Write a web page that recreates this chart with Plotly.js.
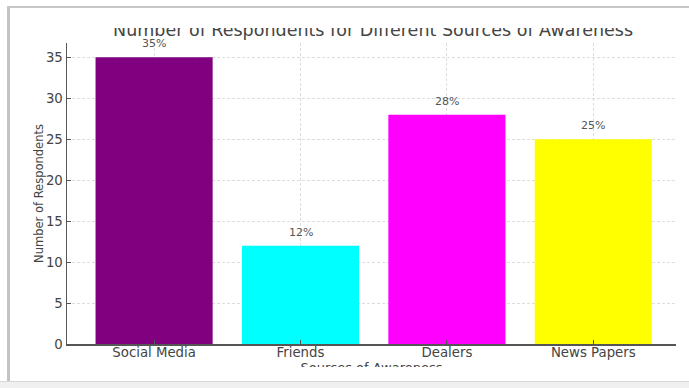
<!DOCTYPE html>
<html>
<head>
<meta charset="utf-8">
<script src="https://cdn.plot.ly/plotly-3.0.1.min.js"></script>
<style>
  html, body { margin: 0; padding: 0; background: #ffffff; }
  #wrap { position: relative; width: 689px; height: 388px; overflow: hidden; background: #fff; }
  #chart { position: absolute; left: 0; top: 0; width: 689px; height: 388px; }
  .cover { position: absolute; background: #ffffff; pointer-events: none; }
  #frameLeft { position: absolute; left: 7px; top: 6px; width: 3px; height: 376px; background: #c4c4c4; }
  #frameTop { position: absolute; left: 7px; top: 6px; width: 682px; height: 2px; background: #c8c8c8; }
  #frameBottom { position: absolute; left: 0px; top: 381px; width: 689px; height: 7px; background: #f0f0f0; border-top: 1px solid #d8d8d8; }
</style>
</head>
<body>
<div id="wrap">
  <div id="chart"></div>
  <div class="cover" style="left:10px; top:8px; width:679px; height:19.5px;"></div>
  <div class="cover" style="left:10px; top:367px; width:679px; height:14px;"></div>
  <div class="cover" style="left:10px; top:8px; width:23px; height:373px;"></div>
  <div id="frameLeft"></div>
  <div id="frameTop"></div>
  <div id="frameBottom"></div>
</div>
<script>
const categories = ["Social Media", "Friends", "Dealers", "News Papers"];
const respondents = [35, 12, 28, 25];
const percentLabels = ["35%", "12%", "28%", "25%"];
const barColors = ["#800080", "#00FFFF", "#FF00FF", "#FFFF00"];
const yTickValues = [0, 5, 10, 15, 20, 25, 30, 35];

const FONT = "DejaVu Sans, Liberation Sans, sans-serif";

const trace = {
  type: "bar",
  x: [0, 1, 2, 3],
  y: respondents,
  width: 0.8,
  marker: { color: barColors, line: { width: 0 } },
  hoverinfo: "x+y",
  showlegend: false
};

const annotations = respondents.map((v, i) => ({
  x: i, y: v, xref: "x", yref: "y",
  text: percentLabels[i],
  showarrow: false,
  yanchor: "bottom",
  yshift: 5,
  font: { family: FONT, size: 11, color: "#555555" }
}));

const layout = {
  width: 689,
  height: 388,
  margin: { l: 67, r: 13, t: 43, b: 44 },
  paper_bgcolor: "#ffffff",
  plot_bgcolor: "#ffffff",
  font: { family: FONT, color: "#444444" },
  title: {
    text: "Number of Respondents for Different Sources of Awareness",
    font: { family: FONT, size: 17.5, color: "#444444" },
    x: 0.5415, xanchor: "center",
    y: 1 - 30 / 388, yanchor: "middle"
  },
  xaxis: {
    range: [-0.595, 3.565],
    tickvals: [0, 1, 2, 3],
    ticktext: categories,
    ticks: "inside", ticklen: 4, tickcolor: "#555555", tickwidth: 1,
    ticklabelstandoff: -4,
    tickfont: { family: FONT, size: 13.3, color: "#444444" },
    showline: true, linecolor: "#555555", linewidth: 1.5,
    showgrid: true, gridcolor: "#dddddd", griddash: "3px,2px", gridwidth: 1,
    zeroline: false,
    title: { text: "Sources of Awareness", font: { family: FONT, size: 13, color: "#444444" }, standoff: 0 }
  },
  yaxis: {
    range: [0, 36.75],
    tickvals: yTickValues,
    ticks: "inside", ticklen: 4, tickcolor: "#555555", tickwidth: 1,
    tickfont: { family: FONT, size: 13.3, color: "#444444" },
    showline: true, linecolor: "#555555", linewidth: 1.5,
    showgrid: true, gridcolor: "#dddddd", griddash: "3px,2px", gridwidth: 1,
    zeroline: false,
    title: { text: "Number of Respondents", font: { family: FONT, size: 11.5, color: "#444444" }, standoff: 0 }
  },
  annotations: annotations,
  bargap: 0.2
};

Plotly.newPlot("chart", [trace], layout, { displayModeBar: false, staticPlot: true });
</script>
</body>
</html>
